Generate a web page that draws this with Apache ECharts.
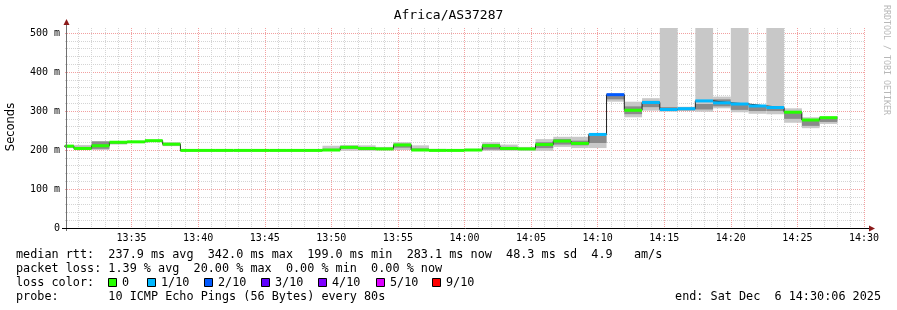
<!DOCTYPE html>
<html><head><meta charset="utf-8">
<script src="https://cdn.jsdelivr.net/npm/echarts@6/dist/echarts.min.js"></script>
<style>html,body{margin:0;padding:0;background:#fff}#c{width:897px;height:310px}</style>
</head><body><div id="c"></div>
<script>
// ---------------- data ----------------
const chartTitle = 'Africa/AS37287';
const axisStart = '13:30:00';
const axisEnd = '14:30:00';
const stepSeconds = 80;
// end time of each 80 s step
const segEnds = ['13:30:40','13:32:00','13:33:20','13:34:40','13:36:00','13:37:20','13:38:40','13:40:00','13:41:20','13:42:40',
  '13:44:00','13:45:20','13:46:40','13:48:00','13:49:20','13:50:40','13:52:00','13:53:20','13:54:40','13:56:00',
  '13:57:20','13:58:40','14:00:00','14:01:20','14:02:40','14:04:00','14:05:20','14:06:40','14:08:00','14:09:20',
  '14:10:40','14:12:00','14:13:20','14:14:40','14:16:00','14:17:20','14:18:40','14:20:00','14:21:20','14:22:40',
  '14:24:00','14:25:20','14:26:40','14:28:00'];
// median rtt (ms)
const median = [210,204,211,220,221,224,215,199,199,199,
  199,199,199,199,199,200,207,204,203,213,
  200,199,199,200,211,204,203,214,223,217,
  240,342,302,322,304,306,326,321,318,313,
  309,297,277,283];
// lost pings out of 10
const lossTenths = [0,0,0,0,0,0,0,0,0,0,
  0,0,0,0,0,0,0,0,0,0,
  0,0,0,0,0,0,0,0,0,0,
  1,2,0,1,1,1,1,1,1,1,
  1,0,0,0];
// smoke: full range of the 10 pings
const smokeLo = [205,200,200,214,219,221,210,198,198,198,
  198,198,198,198,198,198,198,198,199,200,
  198,198,198,198,198,198,198,198,208,205,
  205,324,284,301,298,300,298,307,297,293,
  292,270,256,267];
const smokeHi = [212,213,223,221,223,226,220,200,200,200,
  200,200,200,200,200,211,213,212,208,220,
  212,203,201,203,220,214,208,228,234,234,
  243,345,324,333,520,311,520,337,520,315,
  520,307,284,285];
// smoke: inner (denser) part
const coreLo = [207,202,203,216,220,222,212,198.5,198.5,198.5,
  198.5,198.5,198.5,198.5,198.5,199,203,200,200,206,
  199,198,198,199,201,200,200,205,214,212,
  218,330,292,310,301,302,304,312,303,300,
  300,280,262,272];
const coreHi = [211,208,222,220,222,225,218,199.5,199.5,199.5,
  199.5,199.5,199.5,199.5,199.5,203,210,206,205,216,
  204,200,200,201,215,208,205,220,228,224,
  236,342,312,326,310,309,318,330,320,312,
  310,300,278,282];
const yMax = 513;
const yTicks = [0,100,200,300,400,500];
const lossLegendLabels = ['0','1/10','2/10','3/10','4/10','5/10','9/10'];
const lossLegendColors = ['#26ff00','#00b8ff','#0059ff','#5e00ff','#7e00ff','#dd00ff','#ff0000'];
const statLine1 = 'median rtt:  237.9 ms avg  342.0 ms max  199.0 ms min  283.1 ms now  48.3 ms sd  4.9   am/s';
const statLine2 = 'packet loss: 1.39 % avg  20.00 % max  0.00 % min  0.00 % now';
const statLine3 = 'loss color:';
const statLine4 = 'probe:       10 ICMP Echo Pings (56 Bytes) every 80s';
const endLabel = 'end: Sat Dec  6 14:30:06 2025';
const yAxisName = 'Seconds';
const watermark = 'RRDTOOL / TOBI OETIKER';

// ---------------- helpers ----------------
function toSec(s){const p=s.split(':').map(Number);return p[0]*3600+p[1]*60+(p[2]||0);}
function lossColor(n){return lossLegendColors[Math.min(n,6)];}
const xMin = toSec(axisStart), xMax = toSec(axisEnd);
const ends = segEnds.map(toSec);
const smokeData = ends.map((t,i)=>[t, smokeLo[i], smokeHi[i], coreLo[i], coreHi[i], median[i], lossTenths[i]]);
const stepLine = [[ends[0]-stepSeconds, median[0]]].concat(ends.map((t,i)=>[t, median[i]]));

// ---------------- layout ----------------
const GL = 65, GT = 28, GW = 799, GH = 200;
const MONO = '"DejaVu Sans Mono", monospace';
const LEG_FONT = '11.8px '+MONO;

function clampT(t){return Math.max(xMin, Math.min(xMax, t));}
function clampV(v){return Math.max(0, Math.min(yMax, v));}

const chart = echarts.init(document.getElementById('c'), null, {renderer:'canvas'});

const legendX = [108,147,204,261,318,376,432];
const graphics = [
  {type:'text', left:'center', top:9, style:{text:chartTitle, font:'13px '+MONO, fill:'#000'}},
  {type:'text', x:11, y:GT+GH/2-1, rotation:Math.PI/2, style:{text:yAxisName, font:'11.5px "DejaVu Sans", sans-serif', fill:'#000', align:'center', verticalAlign:'middle'}},
  {type:'text', x:886, y:5, rotation:-Math.PI/2, style:{text:watermark, font:'8.3px '+MONO, fill:'#b8b8b8', align:'left', verticalAlign:'middle'}},
  // axis lines
  {type:'line', shape:{x1:GL+1.5, y1:GT+GH+3, x2:GL+1.5, y2:GT-6}, style:{stroke:'#707070', lineWidth:1}, z:50},
  {type:'line', shape:{x1:GL-3, y1:GT+GH+0.5, x2:GL+GW+5, y2:GT+GH+0.5}, style:{stroke:'#000', lineWidth:1}, z:50},
  {type:'polygon', shape:{points:[[GL+1.5,GT-9],[GL-1.5,GT-3],[GL+4.5,GT-3]]}, style:{fill:'#8b1a1a'}, z:51},
  {type:'polygon', shape:{points:[[GL+GW+11,GT+GH+0.5],[GL+GW+5,GT+GH-2.5],[GL+GW+5,GT+GH+3.5]]}, style:{fill:'#8b1a1a'}, z:51},
  {type:'text', x:16, y:255, style:{text:statLine1, font:LEG_FONT, fill:'#000', verticalAlign:'middle'}},
  {type:'text', x:16, y:269, style:{text:statLine2, font:LEG_FONT, fill:'#000', verticalAlign:'middle'}},
  {type:'text', x:16, y:283, style:{text:statLine3, font:LEG_FONT, fill:'#000', verticalAlign:'middle'}},
  {type:'text', x:16, y:297, style:{text:statLine4, font:LEG_FONT, fill:'#000', verticalAlign:'middle'}},
  {type:'text', x:881, y:297, style:{text:endLabel, font:LEG_FONT, fill:'#000', align:'right', verticalAlign:'middle'}}
];
lossLegendLabels.forEach((lab,i)=>{
  graphics.push({type:'rect', shape:{x:legendX[i]+0.5, y:278.5, width:8, height:8}, style:{fill:lossLegendColors[i], stroke:'#000', lineWidth:1}});
  graphics.push({type:'text', x:legendX[i]+14, y:283, style:{text:lab, font:LEG_FONT, fill:'#000', verticalAlign:'middle'}});
});

function pad(n){return (n<10?'0':'')+n;}

chart.setOption({
  animation:false,
  backgroundColor:'#fff',
  grid:{left:GL, top:GT, width:GW, height:GH, containLabel:false},
  xAxis:{
    type:'value', min:xMin, max:xMax, interval:300,
    axisLine:{show:false}, axisTick:{show:false},
    axisLabel:{margin:5, fontFamily:'DejaVu Sans Mono', fontSize:10, color:'#000',
      formatter:v=> v===xMin ? '' : pad(Math.floor(v/3600))+':'+pad(Math.floor(v%3600/60))},
    splitLine:{show:true, showMinLine:false, lineStyle:{color:'#f2a0a0', type:[1,1], width:1}},
    minorTick:{show:false, splitNumber:5},
    minorSplitLine:{show:true, lineStyle:{color:'#d4d4d4', type:[1,1], width:1}}
  },
  yAxis:{
    type:'value', min:0, max:yMax, interval:100,
    axisLine:{show:false}, axisTick:{show:false},
    axisLabel:{margin:5, fontFamily:'DejaVu Sans Mono', fontSize:10, color:'#000', showMaxLabel:false,
      formatter:v=> yTicks.indexOf(v)<0 ? '' : (v===0?'0':v+' m')},
    splitLine:{show:true, showMinLine:false, showMaxLine:false, lineStyle:{color:'#f2a0a0', type:[1,1], width:1}},
    minorTick:{show:false, splitNumber:5},
    minorSplitLine:{show:true, lineStyle:{color:'#d4d4d4', type:[1,1], width:1}}
  },
  graphic:graphics,
  series:[
    {
      type:'custom', name:'smoke', z:2, clip:true,
      data:smokeData,
      encode:{x:0, y:[1,2]},
      renderItem:function(params, api){
        const t1 = clampT(api.value(0)), t0 = clampT(api.value(0)-stepSeconds);
        const a = api.coord([t0, clampV(api.value(2))]);
        const b = api.coord([t1, clampV(api.value(1))]);
        const c = api.coord([t0, clampV(api.value(4))]);
        const d = api.coord([t1, clampV(api.value(3))]);
        return {type:'group', children:[
          {type:'rect', shape:{x:a[0], y:a[1], width:b[0]-a[0], height:Math.max(1,b[1]-a[1])}, style:{fill:'#c8c8c8'}},
          {type:'rect', shape:{x:c[0], y:c[1], width:d[0]-c[0], height:Math.max(1,d[1]-c[1])}, style:{fill:'#8a8a8a'}}
        ]};
      }
    },
    {
      type:'line', name:'median', z:3, step:'start', symbol:'none', data:stepLine,
      lineStyle:{color:'#202020', width:1}
    },
    {
      type:'custom', name:'medianLoss', z:4, clip:true,
      data:smokeData,
      encode:{x:0, y:5},
      renderItem:function(params, api){
        const t1 = clampT(api.value(0)), t0 = clampT(api.value(0)-stepSeconds);
        const a = api.coord([t0, api.value(5)]);
        const b = api.coord([t1, api.value(5)]);
        return {type:'rect', shape:{x:a[0], y:a[1]-1.5, width:b[0]-a[0], height:3}, style:{fill:lossColor(api.value(6))}};
      }
    }
  ]
});
</script></body></html>
